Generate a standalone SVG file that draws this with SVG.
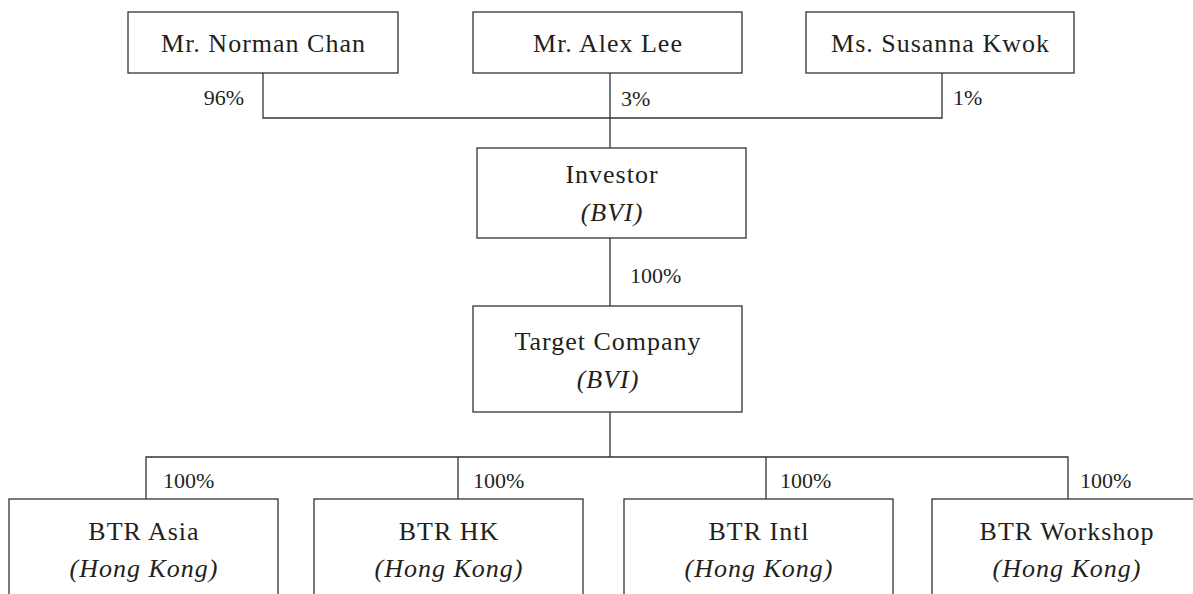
<svg xmlns="http://www.w3.org/2000/svg" width="1193" height="594" viewBox="0 0 1193 594">
<style>
  .box { fill: #ffffff; stroke: #333333; stroke-width: 1.3; }
  .conn { fill: none; stroke: #333333; stroke-width: 1.3; }
  .name { font-family: "Liberation Serif", "Times New Roman", serif; font-size: 26px; letter-spacing: 1px; fill: #231f20; text-anchor: middle; }
  .juris { font-family: "Liberation Serif", "Times New Roman", serif; font-size: 26px; font-style: italic; letter-spacing: 1px; fill: #231f20; text-anchor: middle; }
  .pct { font-family: "Liberation Serif", "Times New Roman", serif; font-size: 22px; fill: #231f20; }
</style>
<rect x="0" y="0" width="1193" height="594" fill="#ffffff"/>
<g id="connectors">
  <polyline class="conn" points="263,73 263,118 942,118 942,73"/>
  <line class="conn" x1="610" y1="73" x2="610" y2="148"/>
  <line class="conn" x1="610" y1="238" x2="610" y2="306"/>
  <line class="conn" x1="610" y1="412" x2="610" y2="457"/>
  <polyline class="conn" points="146,499 146,457 1068,457 1068,499"/>
  <line class="conn" x1="458" y1="457" x2="458" y2="499"/>
  <line class="conn" x1="766" y1="457" x2="766" y2="499"/>
  <text class="pct" x="244" y="105" text-anchor="end">96%</text>
  <text class="pct" x="621" y="106">3%</text>
  <text class="pct" x="953" y="105">1%</text>
  <text class="pct" x="630" y="283">100%</text>
  <text class="pct" x="163" y="488">100%</text>
  <text class="pct" x="473" y="488">100%</text>
  <text class="pct" x="780" y="488">100%</text>
  <text class="pct" x="1080" y="488">100%</text>
</g>
<g id="norman-chan">
  <rect class="box" x="128" y="12" width="270" height="61"/>
  <text class="name" x="263.5" y="52">Mr. Norman Chan</text>
</g>
<g id="alex-lee">
  <rect class="box" x="473" y="12" width="269" height="61"/>
  <text class="name" x="608" y="52">Mr. Alex Lee</text>
</g>
<g id="susanna-kwok">
  <rect class="box" x="806" y="12" width="268" height="61"/>
  <text class="name" x="940.5" y="52">Ms. Susanna Kwok</text>
</g>
<g id="investor">
  <rect class="box" x="477" y="148" width="269" height="90"/>
  <text class="name" x="612" y="183">Investor</text>
  <text class="juris" x="612" y="221">(BVI)</text>
</g>
<g id="target-company">
  <rect class="box" x="473" y="306" width="269" height="106"/>
  <text class="name" x="608" y="350">Target Company</text>
  <text class="juris" x="608" y="388">(BVI)</text>
</g>
<g id="btr-asia">
  <rect class="box" x="9" y="499" width="269" height="120"/>
  <text class="name" x="144" y="540">BTR Asia</text>
  <text class="juris" x="144" y="577">(Hong Kong)</text>
</g>
<g id="btr-hk">
  <rect class="box" x="314" y="499" width="269" height="120"/>
  <text class="name" x="449" y="540">BTR HK</text>
  <text class="juris" x="449" y="577">(Hong Kong)</text>
</g>
<g id="btr-intl">
  <rect class="box" x="624" y="499" width="269" height="120"/>
  <text class="name" x="759" y="540">BTR Intl</text>
  <text class="juris" x="759" y="577">(Hong Kong)</text>
</g>
<g id="btr-workshop">
  <rect class="box" x="932" y="499" width="269" height="120"/>
  <text class="name" x="1067" y="540">BTR Workshop</text>
  <text class="juris" x="1067" y="577">(Hong Kong)</text>
</g>
</svg>
